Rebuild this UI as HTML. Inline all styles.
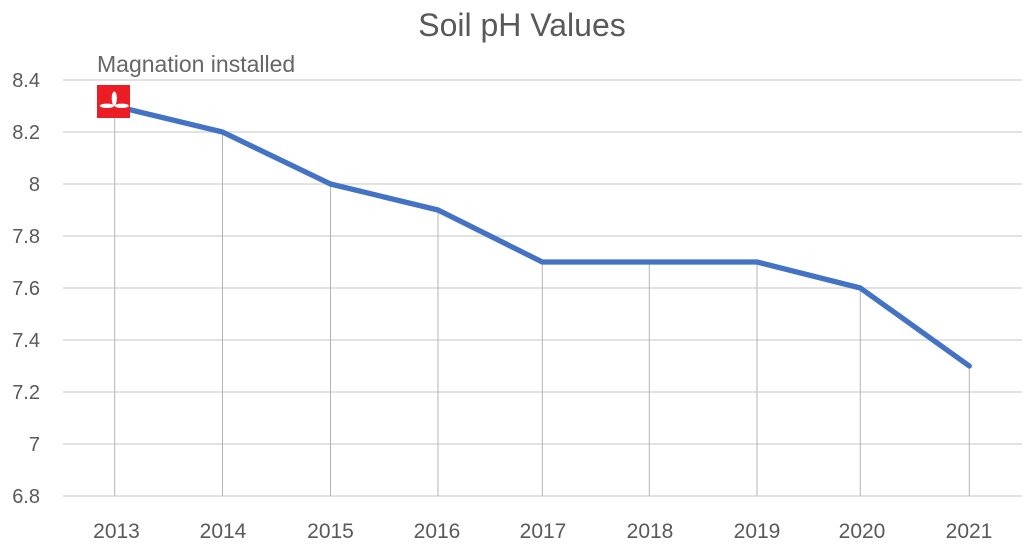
<!DOCTYPE html>
<html><head><meta charset="utf-8"><style>
html,body{margin:0;padding:0;background:#fff;}
svg{display:block;}
</style></head><body>
<svg width="1024" height="550" viewBox="0 0 1024 550" xmlns="http://www.w3.org/2000/svg">
<rect width="1024" height="550" fill="#fff"/>
<text x="522" y="36" text-anchor="middle" font-family="Liberation Sans, sans-serif" font-size="32" fill="#595959">Soil pH Values</text>
<g stroke="#d9d9d9" stroke-width="1.5">
<line x1="63" y1="80" x2="1022" y2="80"/>
<line x1="63" y1="132" x2="1022" y2="132"/>
<line x1="63" y1="184" x2="1022" y2="184"/>
<line x1="63" y1="236" x2="1022" y2="236"/>
<line x1="63" y1="288" x2="1022" y2="288"/>
<line x1="63" y1="340" x2="1022" y2="340"/>
<line x1="63" y1="392" x2="1022" y2="392"/>
<line x1="63" y1="444" x2="1022" y2="444"/>
<line x1="63" y1="496" x2="1022" y2="496"/>
</g>
<g stroke="#b4b4b4" stroke-width="1">
<line x1="114.7" y1="106" x2="114.7" y2="496"/>
<line x1="222.5" y1="132" x2="222.5" y2="496"/>
<line x1="330.5" y1="184" x2="330.5" y2="496"/>
<line x1="438" y1="210" x2="438" y2="496"/>
<line x1="542.3" y1="262" x2="542.3" y2="496"/>
<line x1="649.3" y1="262" x2="649.3" y2="496"/>
<line x1="757" y1="262" x2="757" y2="496"/>
<line x1="860.3" y1="288" x2="860.3" y2="496"/>
<line x1="969.3" y1="366" x2="969.3" y2="496"/>
</g>
<polyline fill="none" stroke="#4472c4" stroke-width="5.3" stroke-linejoin="round" stroke-linecap="round"
 points="114.7,106 222.5,132 330.5,184 438,210 542.3,262 649.3,262 757,262 860.3,288 969.3,366"/>
<rect x="97" y="85" width="33" height="33" fill="#ec1c24"/>
<ellipse cx="114.3" cy="98.5" rx="2.6" ry="7" fill="#fff"/>
<ellipse cx="107" cy="105.8" rx="7.2" ry="2.2" fill="#fff"/>
<ellipse cx="121.8" cy="105.8" rx="7.2" ry="2.2" fill="#fff"/>
<text x="97" y="72" font-family="Liberation Sans, sans-serif" font-size="23" fill="#666">Magnation installed</text>
<g font-family="Liberation Sans, sans-serif" font-size="20" fill="#595959" text-anchor="end">
<text x="40" y="87">8.4</text>
<text x="40" y="139">8.2</text>
<text x="40" y="191">8</text>
<text x="40" y="243">7.8</text>
<text x="40" y="295">7.6</text>
<text x="40" y="347">7.4</text>
<text x="40" y="399">7.2</text>
<text x="40" y="451">7</text>
<text x="40" y="503">6.8</text>
</g>
<g font-family="Liberation Sans, sans-serif" font-size="21" fill="#595959" text-anchor="middle">
<text x="116.5" y="538">2013</text>
<text x="223" y="538">2014</text>
<text x="330.5" y="538">2015</text>
<text x="437" y="538">2016</text>
<text x="543" y="538">2017</text>
<text x="650" y="538">2018</text>
<text x="757" y="538">2019</text>
<text x="862" y="538">2020</text>
<text x="969" y="538">2021</text>
</g>
</svg>
</body></html>
